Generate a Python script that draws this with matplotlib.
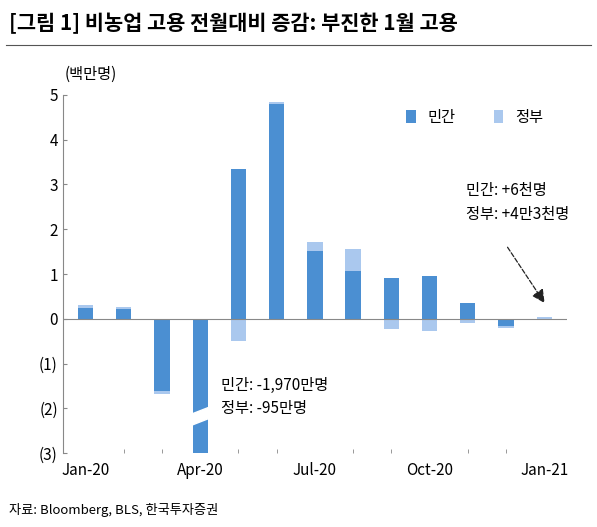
import matplotlib
matplotlib.use('Agg')
import matplotlib.pyplot as plt
import numpy as np
from matplotlib.patches import Polygon

plt.rcParams['font.family'] = ['Noto Sans CJK KR', 'DejaVu Sans']

months = ['Jan-20', 'Feb-20', 'Mar-20', 'Apr-20', 'May-20', 'Jun-20', 'Jul-20',
          'Aug-20', 'Sep-20', 'Oct-20', 'Nov-20', 'Dec-20', 'Jan-21']
private = [0.25, 0.22, -1.60, -19.70, 3.35, 4.80, 1.52, 1.07, 0.92, 0.95, 0.35, -0.17, 0.006]
govt = [0.05, 0.05, -0.08, -0.95, -0.50, 0.05, 0.20, 0.50, -0.22, -0.27, -0.10, -0.04, 0.043]
tick_labels = ['Jan-20', 'Apr-20', 'Jul-20', 'Oct-20', 'Jan-21']

c_priv = '#4b8fd2'
c_gov = '#aac8ee'

fig = plt.figure(figsize=(5.97, 5.27), dpi=100)
ax = fig.add_axes([0.105, 0.14, 0.845, 0.68])

x = np.arange(len(months))
priv = np.array(private)
gov = np.array(govt)
gov_bottom = np.where(gov * priv > 0, priv, 0)
ax.bar(x, priv, width=0.4, color=c_priv, label='민간', zorder=2)
ax.bar(x, gov, width=0.4, bottom=gov_bottom, color=c_gov, label='정부', zorder=1)

# axis break on the Apr-20 bar
ax.add_patch(Polygon([[2.7, -2.15], [3.3, -1.95], [3.3, -2.2], [2.7, -2.4]],
                     closed=True, color='white', zorder=3))

ax.set_ylim(-3, 5)
ax.set_xlim(-0.6, 12.6)
ax.set_yticks(range(-3, 6))
ax.set_yticklabels(['(3)', '(2)', '(1)', '0', '1', '2', '3', '4', '5'])
ax.axhline(0, color='#888888', lw=0.8, zorder=4)
ax.set_xticks(x, minor=True)
ax.tick_params(axis='x', which='minor', length=3, direction='in', color='#888888')
ax.set_xticks([0, 3, 6, 9, 12])
ax.set_xticklabels(tick_labels)
ax.tick_params(axis='x', which='major', length=0, pad=6)
ax.tick_params(axis='both', labelsize=11)
ax.tick_params(axis='y', direction='in', length=3, color='#888888')
for s in ['top', 'right', 'bottom']:
    ax.spines[s].set_visible(False)
ax.spines['left'].set_color('#888888')

ax.text(-0.55, 5.35, '(백만명)', fontsize=11)
ax.legend(loc='upper right', bbox_to_anchor=(0.98, 1.0), ncol=2, frameon=False,
          fontsize=11, handlelength=0.6, handleheight=0.9, columnspacing=2.5)

ax.text(3.55, -1.75, '민간: -1,970만명\n정부: -95만명', fontsize=11, va='center',
        linespacing=1.5)
ax.text(9.95, 2.6, '민간: +6천명\n정부: +4만3천명', fontsize=11, va='center',
        linespacing=1.5)
ax.annotate('', xy=(12.05, 0.3), xytext=(11.0, 1.65),
            arrowprops=dict(arrowstyle='-|>,head_length=0.8,head_width=0.4',
                            ls='--', color='#222222', lw=0.9))

fig.text(0.015, 0.955, '[그림 1] 비농업 고용 전월대비 증감: 부진한 1월 고용',
         fontsize=15, fontweight='bold', va='center')
fig.add_artist(plt.Line2D([0.01, 0.99], [0.915, 0.915], color='#555555', lw=0.8))
fig.text(0.015, 0.025, '자료: Bloomberg, BLS, 한국투자증권', fontsize=9.5)

fig.savefig('out.png', dpi=100)
